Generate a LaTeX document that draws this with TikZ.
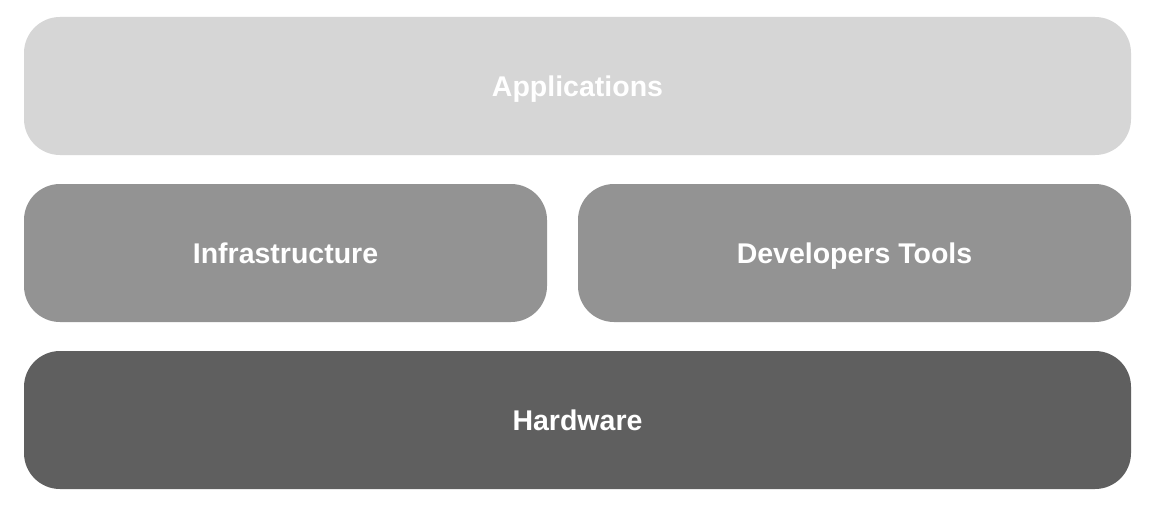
\documentclass[tikz,border=0pt]{standalone}
\usepackage{fontspec}
\setmainfont{Liberation Sans}
\definecolor{lightbox}{HTML}{D6D6D6}
\definecolor{midbox}{HTML}{939393}
\definecolor{darkbox}{HTML}{5F5F5F}
\begin{document}
\begin{tikzpicture}[x=1pt,y=-1pt,
  layerbox/.style={rounded corners=36pt},
  layerlabel/.style={anchor=base, inner sep=0pt, text=white, font=\fontsize{28.5}{34}\selectfont\bfseries}]
\useasboundingbox[fill=white] (0,0) rectangle (1164,524);
\fill[lightbox, layerbox] (24,17) rectangle (1131,155);
\node[layerlabel] (apps) at (577.5,96.5) {Applications};
\fill[midbox, layerbox] (24,184) rectangle (547,322);
\node[layerlabel] (infra) at (285.5,263.5) {Infrastructure};
\fill[midbox, layerbox] (578,184) rectangle (1131,322);
\node[layerlabel] (dev) at (854.5,263.5) {Developers Tools};
\fill[darkbox, layerbox] (24,351) rectangle (1131,489);
\node[layerlabel] (hw) at (577.5,430.5) {Hardware};
\end{tikzpicture}
\end{document}
